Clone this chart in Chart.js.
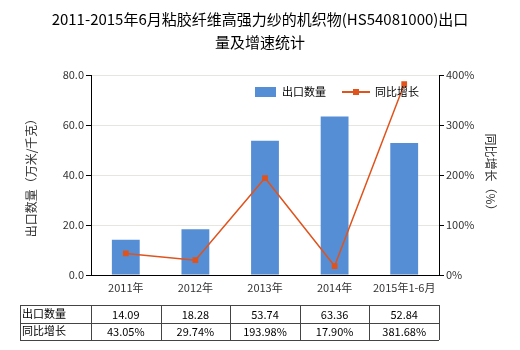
<!DOCTYPE html>
<html>
<head>
<meta charset="utf-8">
<script src="https://cdn.jsdelivr.net/npm/chart.js@4/dist/chart.umd.min.js"></script>
<style>
  html, body { margin: 0; padding: 0; background: #fff; }
  #wrap { width: 520px; height: 350px; position: relative; }
</style>
</head>
<body>
<div id="wrap"><canvas id="chart" width="520" height="350"></canvas></div>
<script>
// ----- data -----
const categories = ["2011年", "2012年", "2013年", "2014年", "2015年1-6月"];
const exportQty = [14.09, 18.28, 53.74, 63.36, 52.84];
const growthPct = [43.05, 29.74, 193.98, 17.90, 381.68];
const qtyLabels = ["14.09", "18.28", "53.74", "63.36", "52.84"];
const growthLabels = ["43.05%", "29.74%", "193.98%", "17.90%", "381.68%"];

const FONT = "'Noto Sans CJK SC', 'Noto Sans', sans-serif";
const BAR_COLOR = "#558ed5";
const LINE_COLOR = "#e0531c";

// title, axis titles, legend and data table drawn on the canvas
const extras = {
  id: "extras",
  afterDraw(chart) {
    const { ctx, chartArea, scales } = chart;
    ctx.save();

    // title
    ctx.fillStyle = "#000";
    ctx.font = "15px " + FONT;
    ctx.textAlign = "center";
    ctx.textBaseline = "middle";
    ctx.fillText("2011-2015年6月粘胶纤维高强力纱的机织物(HS54081000)出口", 260, 19);
    ctx.fillText("量及增速统计", 260, 42);

    // axis titles
    ctx.font = "12px " + FONT;
    ctx.fillStyle = "#333";
    ctx.save();
    ctx.translate(31, 175);
    ctx.rotate(-Math.PI / 2);
    ctx.fillText("出口数量（万米/千克）", 0, 0);
    ctx.restore();
    ctx.save();
    ctx.translate(491, 175);
    ctx.rotate(Math.PI / 2);
    ctx.fillText("同比增长（%）", 0, 0);
    ctx.restore();

    // legend
    ctx.fillStyle = BAR_COLOR;
    ctx.fillRect(255, 87, 21, 10);
    ctx.fillStyle = "#000";
    ctx.font = "11px " + FONT;
    ctx.textAlign = "left";
    ctx.fillText("出口数量", 282, 92);
    ctx.strokeStyle = LINE_COLOR;
    ctx.lineWidth = 2;
    ctx.beginPath();
    ctx.moveTo(342, 92);
    ctx.lineTo(370, 92);
    ctx.stroke();
    ctx.fillStyle = LINE_COLOR;
    ctx.fillRect(353, 89, 6, 6);
    ctx.fillStyle = "#000";
    ctx.fillText("同比增长", 375, 92);

    // data table
    const x = scales.x;
    const left = 20, right = chartArea.right;
    const top = 305, rowH = 17.5;
    const cols = [left, chartArea.left];
    categories.forEach((c, i) => {
      const half = (x.getPixelForValue(1) - x.getPixelForValue(0)) / 2;
      cols.push(x.getPixelForValue(i) + half);
    });
    ctx.strokeStyle = "#444";
    ctx.lineWidth = 1;
    for (let r = 0; r <= 2; r++) {
      const yy = Math.round(top + r * rowH) + 0.5;
      ctx.beginPath();
      ctx.moveTo(left, yy);
      ctx.lineTo(right, yy);
      ctx.stroke();
    }
    cols.forEach(cx => {
      const xx = Math.round(cx) + 0.5;
      ctx.beginPath();
      ctx.moveTo(xx, top);
      ctx.lineTo(xx, top + 2 * rowH);
      ctx.stroke();
    });
    ctx.fillStyle = "#000";
    ctx.font = "11px " + FONT;
    ctx.textAlign = "left";
    ctx.fillText("出口数量", left + 2, top + rowH / 2);
    ctx.fillText("同比增长", left + 2, top + rowH * 1.5);
    ctx.textAlign = "center";
    categories.forEach((c, i) => {
      const cx = x.getPixelForValue(i);
      ctx.fillText(qtyLabels[i], cx, top + rowH / 2 + 1);
      ctx.fillText(growthLabels[i], cx, top + rowH * 1.5 + 1);
    });

    ctx.restore();
  }
};

document.addEventListener("DOMContentLoaded", () => {
  const ctx = document.getElementById("chart").getContext("2d");
  new Chart(ctx, {
    data: {
      labels: categories,
      datasets: [
        {
          type: "line",
          label: "同比增长",
          data: growthPct,
          yAxisID: "y2",
          borderColor: LINE_COLOR,
          backgroundColor: LINE_COLOR,
          borderWidth: 1.5,
          pointStyle: "rect",
          pointRadius: 3,
          tension: 0,
          order: 0,
        },
        {
          type: "bar",
          label: "出口数量",
          data: exportQty,
          yAxisID: "y",
          backgroundColor: BAR_COLOR,
          categoryPercentage: 1,
          barPercentage: 0.4,
          order: 1,
        },
      ],
    },
    options: {
      responsive: false,
      animation: false,
      layout: { padding: { top: 75, left: 0, right: 0, bottom: 0 } },
      plugins: { legend: { display: false }, tooltip: { enabled: false } },
      scales: {
        x: {
          grid: { display: false, drawTicks: false },
          border: { color: "#000" },
          ticks: { color: "#333", font: { size: 11, family: FONT }, padding: 6 },
          afterFit: s => { s.height = 75; },
        },
        y: {
          position: "left",
          min: 0, max: 80,
          grid: { color: "#e6e6de", tickLength: 5, tickColor: "#000" },
          border: { color: "#000" },
          ticks: {
            stepSize: 20,
            color: "#333",
            font: { size: 11, family: FONT },
            padding: 2,
            callback: v => v.toFixed(1),
          },
          afterFit: s => { s.width = 91; },
        },
        y2: {
          position: "right",
          min: 0, max: 400,
          grid: { drawOnChartArea: false, tickLength: 5, tickColor: "#000" },
          border: { color: "#000" },
          ticks: {
            stepSize: 100,
            color: "#333",
            font: { size: 11, family: FONT },
            padding: 2,
            callback: v => v + "%",
          },
          afterFit: s => { s.width = 81; },
        },
      },
    },
    plugins: [extras],
  });
});
</script>
</body>
</html>
